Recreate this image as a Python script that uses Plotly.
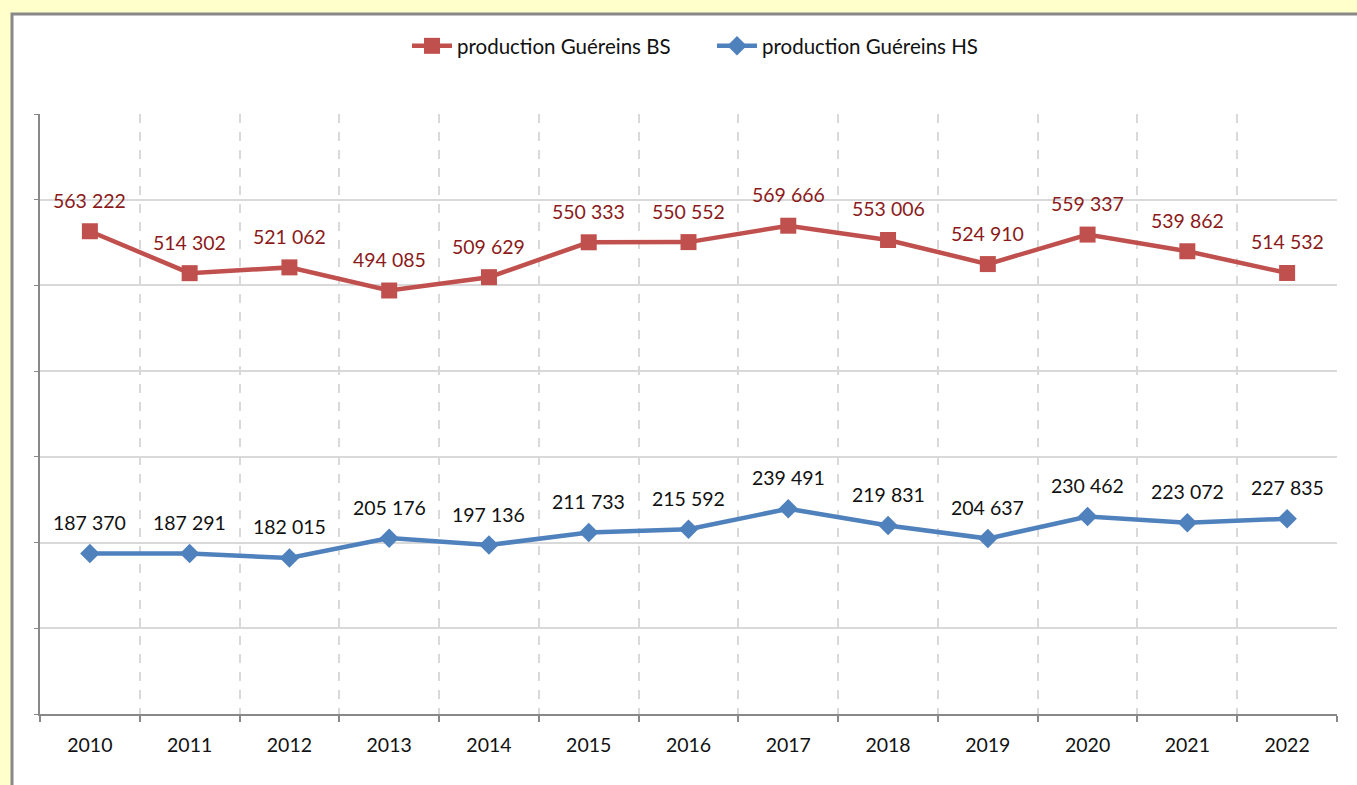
import plotly.graph_objects as go

years = ["2010", "2011", "2012", "2013", "2014", "2015", "2016",
         "2017", "2018", "2019", "2020", "2021", "2022"]
bs_values = [563222, 514302, 521062, 494085, 509629, 550333, 550552,
             569666, 553006, 524910, 559337, 539862, 514532]
hs_values = [187370, 187291, 182015, 205176, 197136, 211733, 215592,
             239491, 219831, 204637, 230462, 223072, 227835]
bs_name = "production Guéreins BS"
hs_name = "production Guéreins HS"

BS_COLOR = "#C0504D"
HS_COLOR = "#4F81BD"
FONT = "Lato"
FS = 19.5


def fmt(v):
    return f"{v:,}".replace(",", " ")


x_idx = list(range(len(years)))

fig = go.Figure()
fig.add_trace(go.Scatter(
    x=x_idx, y=bs_values, name=bs_name, mode="lines+markers",
    line=dict(color=BS_COLOR, width=4.5),
    marker=dict(symbol="square", size=16, color=BS_COLOR),
))
fig.add_trace(go.Scatter(
    x=x_idx, y=hs_values, name=hs_name, mode="lines+markers",
    line=dict(color=HS_COLOR, width=4.5),
    marker=dict(symbol="diamond", size=15, color=HS_COLOR),
))

annotations = []
for i, v in zip(x_idx, bs_values):
    annotations.append(dict(x=i, y=v, text=fmt(v), showarrow=False, yshift=31,
                            font=dict(family=FONT, size=FS, color="#8B1A1A")))
for i, v in zip(x_idx, hs_values):
    annotations.append(dict(x=i, y=v, text=fmt(v), showarrow=False, yshift=31,
                            font=dict(family=FONT, size=FS, color="#111111")))

W, H = 1357, 785
L, R, T, B = 40, 20, 114, 71
pw, ph = W - L - R, H - T - B

def px_x(p):
    return (p - L) / pw

def px_y(p):
    return 1 - (p - T) / ph

fig.update_layout(
    width=W, height=H,
    margin=dict(l=L, r=R, t=T, b=B),
    paper_bgcolor="#FFFFCC",
    plot_bgcolor="white",
    font=dict(family=FONT, size=FS, color="#111111"),
    showlegend=True,
    legend=dict(orientation="h", x=px_x(407), xanchor="left", y=px_y(46), yanchor="middle",
                font=dict(family=FONT, size=20.5, color="#111111"), bgcolor="rgba(0,0,0,0)",
                itemwidth=40, entrywidth=250, entrywidthmode="pixels", tracegroupgap=0),
    annotations=annotations,
    shapes=[dict(type="rect", xref="paper", yref="paper", layer="below",
                 x0=px_x(12), x1=px_x(1365), y0=px_y(795), y1=px_y(14),
                 fillcolor="white", line=dict(color="#888888", width=3))],
    hovermode=False,
)

fig.update_xaxes(
    range=[-0.5, len(years) - 0.5],
    tickmode="array", tickvals=x_idx, ticktext=years,
    showgrid=False, ticks="", ticklabelstandoff=13,
    tickfont=dict(family=FONT, size=FS, color="#111111"),
    showline=True, linecolor="#888888", linewidth=2,
    zeroline=False,
    minor=dict(tick0=0.5, dtick=1, showgrid=True, gridcolor="#D9D9D9", griddash="dash",
               gridwidth=1.5, ticks="outside", ticklen=6, tickcolor="#888888", tickwidth=2),
)
fig.update_yaxes(
    range=[0, 700000], dtick=100000, tick0=0,
    showticklabels=False,
    showgrid=True, gridcolor="#D9D9D9", gridwidth=2,
    ticks="outside", ticklen=4, tickcolor="#888888",
    showline=True, linecolor="#888888", linewidth=2,
    zeroline=False,
)

fig.write_html("out.html", config={"displayModeBar": False},
               post_script="document.body.style.margin='0px';document.body.style.overflow='hidden';")
